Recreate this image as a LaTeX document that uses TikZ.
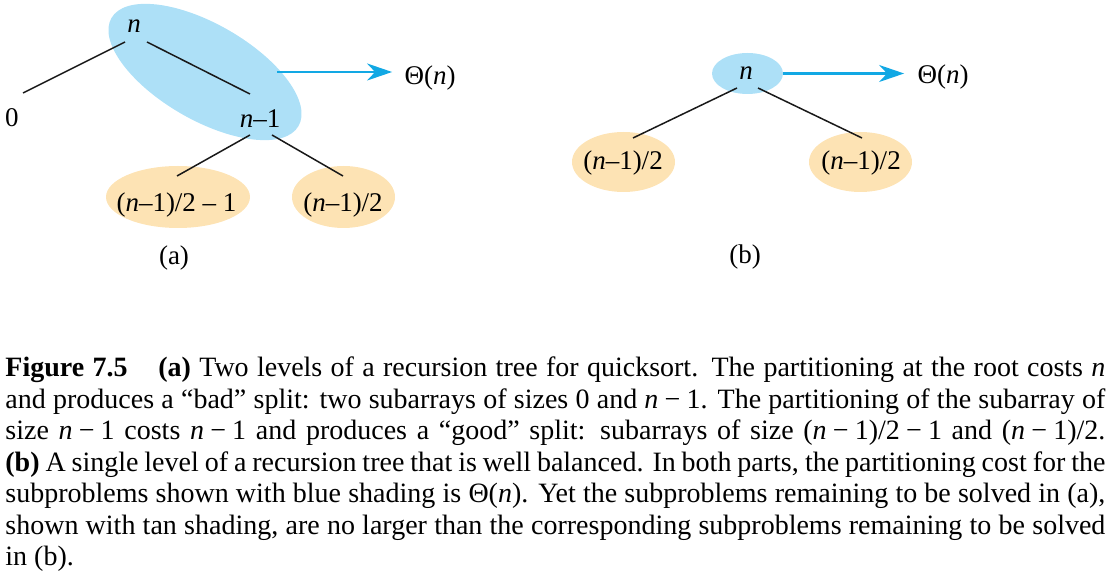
\documentclass[tikz,border=0pt]{standalone}
\usepackage{fontspec}
\setmainfont{Liberation Serif}
\usetikzlibrary{arrows.meta,shapes.geometric}
\definecolor{cblue}{HTML}{ADE0F7}
\definecolor{ctan}{HTML}{FDE3B4}
\definecolor{carrow}{HTML}{12A8E4}
\newcommand{\mn}{\hspace{0.22em}−\hspace{0.22em}}
\newcommand{\itn}{\textit{n}}
\begin{document}
\begin{tikzpicture}[x=0.5pt,y=-0.5pt,
  lbl/.style={inner sep=0pt, anchor=base, font=\fontsize{13.5}{16}\selectfont},
  blob/.style={ellipse, inner sep=0pt, draw=none},
  edge/.style={line width=0.75pt, black!90},
  arr/.style={line width=1.25pt, carrow, -{Stealth[length=12.5pt,width=8.5pt,inset=4pt]}}]
\useasboundingbox (0,0) rectangle (1120,587);
% ---------- (a) ----------
\node[blob, fill=cblue, minimum width=108pt, minimum height=48pt, rotate=-30] (bluea) at (205,72) {};
\node[blob, fill=ctan, minimum width=72pt, minimum height=31pt] (tanal) at (178,197) {};
\node[blob, fill=ctan, minimum width=51.5pt, minimum height=31pt] (tanar) at (343.5,197) {};
\node[lbl] (na) at (134,33) {\itn};
\node[lbl] (zero) at (12,127) {0};
\node[lbl] (n1) at (260,128) {\itn–1};
\node[lbl] (la) at (176.5,212) {(\itn–1)/2 – 1};
\node[lbl] (ra) at (343,212) {(\itn–1)/2};
\node[lbl] (thetaa) at (430,85) {Θ(\itn)};
\node[lbl] (capa) at (174,265) {(a)};
\draw[edge] ([shift={(-9,9)}]na.base) -- ([shift={(11,-34)}]zero.base);
\draw[edge] ([shift={(13,9)}]na.base) -- ([shift={(-10,-34)}]n1.base);
\draw[edge] ([shift={(-10,7)}]n1.base) -- ([shift={(0.5,-36)}]la.base);
\draw[edge] ([shift={(12,7)}]n1.base) -- ([shift={(0,-36)}]ra.base);
\draw[arr, shorten >=6pt] ([shift={(72,0)}]bluea.center) -- (bluea.center -| thetaa.west);
% ---------- (b) ----------
\node[blob, fill=cblue, minimum width=35.5pt, minimum height=20.5pt] (blueb) at (747.5,73.5) {};
\node[blob, fill=ctan, minimum width=51.5pt, minimum height=30pt] (tanbl) at (623.5,162) {};
\node[blob, fill=ctan, minimum width=51.5pt, minimum height=30pt] (tanbr) at (860.5,162) {};
\node[lbl] (nb) at (746,80) {\itn};
\node[lbl] (lb) at (623,170) {(\itn–1)/2};
\node[lbl] (rb) at (861,170) {(\itn–1)/2};
\node[lbl] (thetab) at (943,84) {Θ(\itn)};
\node[lbl] (capb) at (745,264) {(b)};
\draw[edge] ([shift={(-9,8)}]nb.base) -- ([shift={(10,-32)}]lb.base);
\draw[edge] ([shift={(12,8)}]nb.base) -- ([shift={(1,-32)}]rb.base);
\draw[arr, shorten >=6.5pt] (blueb.east) -- (blueb.east -| thetab.west);
% ---------- caption ----------
\node[anchor=base west, inner sep=0pt] (cap) at (5,377) {\parbox[t]{550pt}{\fontsize{14}{15.75}\selectfont
\textbf{Figure 7.5}\hspace{1.1em}\textbf{(a)} Two levels of a recursion tree for quicksort. The partitioning at the root costs \itn\linebreak
and produces a ``bad'' split: two subarrays of sizes 0 and \itn\mn 1. The partitioning of the subarray of\linebreak
size \itn\mn 1 costs \itn\mn 1 and produces a ``good'' split: subarrays of size (\itn\mn 1)/2\mn 1 and (\itn\mn 1)/2.\linebreak
\textbf{(b)} A single level of a recursion tree that is well balanced. In both parts, the partitioning cost for the\linebreak
subproblems shown with blue shading is Θ(\itn). Yet the subproblems remaining to be solved in (a),\linebreak
shown with tan shading, are no larger than the corresponding subproblems remaining to be solved\linebreak
in (b).}};
\end{tikzpicture}
\end{document}
